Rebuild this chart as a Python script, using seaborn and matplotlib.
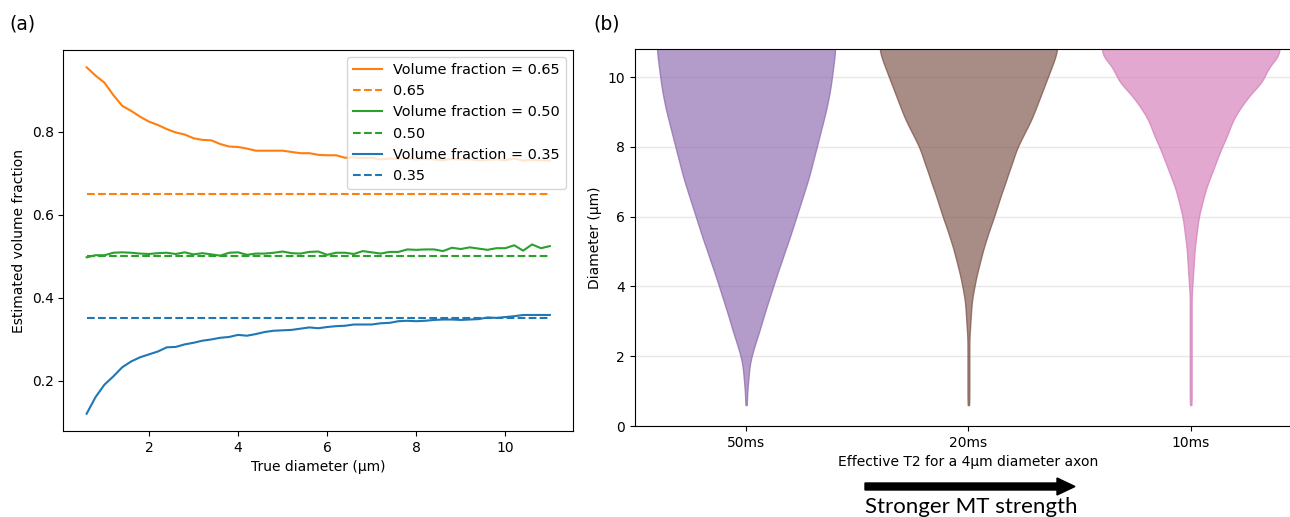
import numpy as np
import pandas as pd
import matplotlib
matplotlib.use("Agg")
import matplotlib.pyplot as plt
from matplotlib.patches import FancyArrow
import seaborn as sns

# ---------------- data: panel (a) ----------------
true_diam = np.round(np.linspace(0.6, 11.0, 53), 1)

est_065 = [0.955, 0.935, 0.918, 0.888, 0.862, 0.850, 0.836, 0.824, 0.816, 0.806,
           0.798, 0.793, 0.784, 0.780, 0.779, 0.770, 0.764, 0.763, 0.759, 0.754,
           0.754, 0.754, 0.754, 0.751, 0.748, 0.748, 0.744, 0.743, 0.743, 0.737,
           0.738, 0.736, 0.737, 0.733, 0.735, 0.734, 0.735, 0.733, 0.734, 0.733,
           0.731, 0.734, 0.733, 0.733, 0.731, 0.732, 0.733, 0.731, 0.735, 0.730,
           0.732, 0.731, 0.730]
est_050 = [0.497, 0.502, 0.502, 0.508, 0.509, 0.508, 0.506, 0.505, 0.507, 0.508,
           0.505, 0.509, 0.504, 0.507, 0.504, 0.501, 0.508, 0.509, 0.503, 0.506,
           0.506, 0.508, 0.511, 0.507, 0.506, 0.510, 0.511, 0.503, 0.508, 0.508,
           0.505, 0.512, 0.509, 0.506, 0.510, 0.510, 0.516, 0.515, 0.516, 0.516,
           0.512, 0.520, 0.517, 0.521, 0.518, 0.515, 0.519, 0.519, 0.526, 0.513,
           0.528, 0.519, 0.524]
est_035 = [0.120, 0.160, 0.190, 0.210, 0.232, 0.246, 0.256, 0.263, 0.270, 0.280,
           0.281, 0.287, 0.291, 0.296, 0.299, 0.303, 0.305, 0.310, 0.308, 0.312,
           0.317, 0.320, 0.321, 0.322, 0.325, 0.328, 0.326, 0.329, 0.331, 0.332,
           0.335, 0.335, 0.335, 0.338, 0.339, 0.343, 0.344, 0.343, 0.344, 0.346,
           0.347, 0.347, 0.346, 0.347, 0.348, 0.352, 0.351, 0.353, 0.355, 0.358,
           0.358, 0.358, 0.358]
true_vf = [0.65, 0.50, 0.35]
vf_labels = ["0.65", "0.50", "0.35"]

# ---------------- data: panel (b) ----------------
t2_labels = ["50ms", "20ms", "10ms"]
diam_bins = np.round(np.linspace(0.6, 11.4, 55), 1)
# relative frequency per 0.2 um diameter bin
freq_50 = [1, 1, 1, 2, 3, 3, 4, 6, 8, 11,
           13, 16, 18, 20, 23, 25, 28, 30, 33, 35,
           38, 41, 43, 46, 49, 51, 54, 56, 59, 61,
           64, 66, 69, 71, 73, 75, 77, 79, 81, 83,
           85, 87, 89, 91, 92, 94, 95, 96, 97, 98,
           99, 100, 100, 100, 100]
freq_20 = [1, 1, 1, 1, 1, 1, 1, 1, 1, 1,
           1, 2, 2, 3, 3, 4, 5, 7, 8, 10,
           12, 14, 16, 18, 21, 23, 26, 29, 31, 34,
           36, 39, 42, 44, 47, 50, 52, 55, 59, 63,
           67, 71, 74, 77, 80, 83, 86, 89, 92, 95,
           98, 100, 100, 100, 100]
freq_10 = [1, 1, 1, 1, 1, 1, 1, 1, 1, 1,
           1, 1, 1, 1, 1, 1, 1, 2, 2, 3,
           3, 4, 4, 5, 6, 7, 8, 9, 11, 13,
           15, 17, 20, 23, 26, 29, 32, 35, 39, 42,
           45, 48, 53, 58, 64, 70, 79, 83, 86, 91,
           100, 100, 100, 100, 100]

# ---------------- figure ----------------
fig = plt.figure(figsize=(12.9, 5.17), dpi=100)
ax1 = fig.add_axes([0.0492, 0.1663, 0.395, 0.737])
ax2 = fig.add_axes([0.4922, 0.176, 0.517, 0.729])

# panel (a)
series = [est_065, est_050, est_035]
colors = ["tab:orange", "tab:green", "tab:blue"]
for vals, tv, lab, col in zip(series, true_vf, vf_labels, colors):
    sns.lineplot(x=true_diam, y=vals, ax=ax1, color=col, lw=1.5,
                 label=f"Volume fraction = {lab}")
    ax1.plot([true_diam[0], true_diam[-1]], [tv, tv], ls="--", color=col,
             lw=1.5, label=lab)
ax1.set_xlabel("True diameter (µm)")
ax1.set_ylabel("Estimated volume fraction")
ax1.set_xticks([2, 4, 6, 8, 10])
ax1.set_yticks([0.2, 0.4, 0.6, 0.8])
ax1.legend(loc="upper right", fontsize=10.4)

# panel (b)
rows = []
for lab, fr in zip(t2_labels, [freq_50, freq_20, freq_10]):
    d = np.repeat(diam_bins, fr)
    rows.append(pd.DataFrame({"T2": lab, "Diameter": d}))
df = pd.concat(rows, ignore_index=True)

vcols = ["tab:purple", "tab:brown", "tab:pink"]
sns.violinplot(data=df, x="T2", y="Diameter", hue="T2", order=t2_labels,
               hue_order=t2_labels, palette=vcols, legend=False, cut=0,
               inner=None, density_norm="width", bw_method=0.1,
               gridsize=400, linewidth=1, ax=ax2)
for coll in ax2.collections:
    fc = coll.get_facecolor()[0]
    coll.set_facecolor((fc[0], fc[1], fc[2], 0.7))
    coll.set_edgecolor((fc[0], fc[1], fc[2], 0.8))
    coll.set_linewidth(1.0)

ax2.set_xlim(-0.5, 2.5)
ax2.set_ylim(0, 10.8)
ax2.set_yticks([0, 2, 4, 6, 8, 10])
ax2.yaxis.grid(True, color="#e8e8e8", lw=1)
ax2.set_axisbelow(True)
ax2.set_xlabel("Effective T2 for a 4µm diameter axon")
ax2.set_ylabel("Diameter (µm)")

# panel labels
fig.text(0.007, 1 - 24 / 517, "(a)", fontsize=13.5, va="center", ha="left")
fig.text(593 / 1290, 1 - 24 / 517, "(b)", fontsize=13.5, va="center", ha="left")

# arrow + annotation
y_arr = 1 - 486.5 / 517
fig.add_artist(FancyArrow(865 / 1290, y_arr, (1057 - 865) / 1290, 0,
                          width=7 / 517, head_width=17 / 517,
                          head_length=18 / 1290, length_includes_head=False,
                          color="black", transform=fig.transFigure))
fig.text(971 / 1290, 1 - 513 / 517, "Stronger MT strength", fontsize=16,
         family=["Lato", "DejaVu Sans"], ha="center", va="baseline")

fig.savefig("out.png", dpi=100)
